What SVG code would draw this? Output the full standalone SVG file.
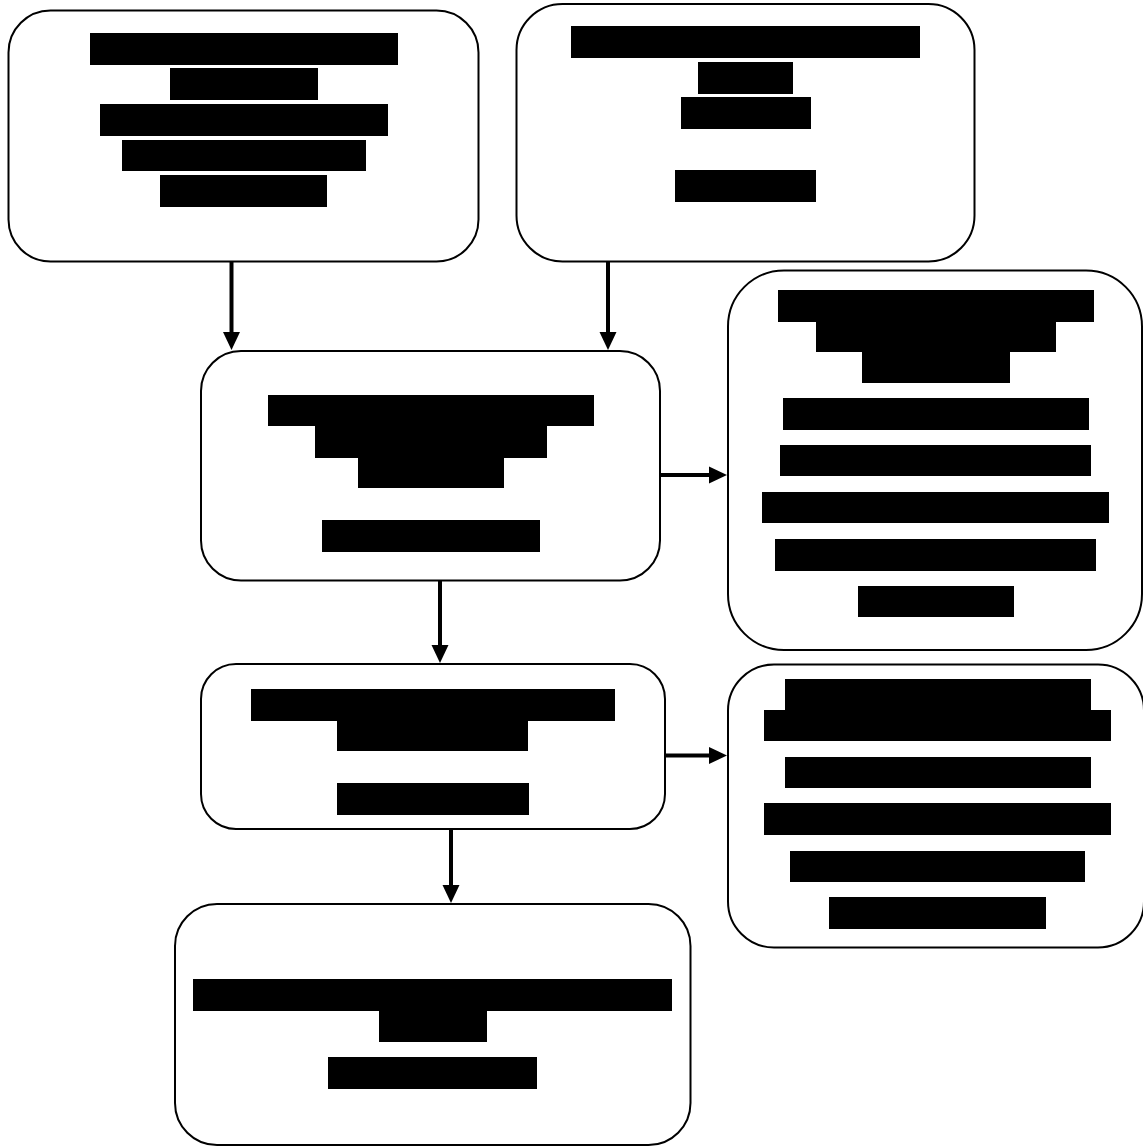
<svg xmlns="http://www.w3.org/2000/svg" width="1143" height="1147" viewBox="0 0 1143 1147">
<style>
.box{fill:#fff;stroke:#000;stroke-width:2}
.bar{fill:#000}
.conn{stroke:#000;stroke-width:4;fill:none;marker-end:url(#ah)}
</style>
<defs>
<marker id="ah" markerUnits="userSpaceOnUse" markerWidth="20" markerHeight="18" refX="8" refY="8.5" orient="auto" overflow="visible">
<path d="M0,0 L18,8.5 L0,17 Z" fill="#000"/>
</marker>
</defs>
<rect width="1143" height="1147" fill="#fff"/>
<g id="connectors">
<line class="conn" x1="231.5" y1="262" x2="231.5" y2="340"/>
<line class="conn" x1="608" y1="262" x2="608" y2="340"/>
<line class="conn" x1="440" y1="581" x2="440" y2="653"/>
<line class="conn" x1="660" y1="475" x2="717" y2="475"/>
<line class="conn" x1="665" y1="755.5" x2="717" y2="755.5"/>
<line class="conn" x1="451" y1="829" x2="451" y2="893"/>
</g>
<g id="node1">
<rect class="box" x="8.5" y="10.5" width="470" height="251" rx="42"/>
<rect class="bar" x="90" y="33" width="308" height="32"/>
<rect class="bar" x="170" y="68" width="148" height="32"/>
<rect class="bar" x="100" y="104" width="288" height="32"/>
<rect class="bar" x="122" y="140" width="244" height="31"/>
<rect class="bar" x="160" y="175" width="167" height="32"/>
</g>
<g id="node2">
<rect class="box" x="516.5" y="4" width="458" height="257.5" rx="46"/>
<rect class="bar" x="571" y="26" width="349" height="32"/>
<rect class="bar" x="698" y="62" width="95" height="32"/>
<rect class="bar" x="681" y="97" width="130" height="32"/>
<rect class="bar" x="675" y="170" width="141" height="32"/>
</g>
<g id="node3">
<rect class="box" x="201" y="351" width="459" height="229.5" rx="40"/>
<rect class="bar" x="268" y="395" width="326" height="31"/>
<rect class="bar" x="315" y="426" width="232" height="32"/>
<rect class="bar" x="358" y="457" width="146" height="31"/>
<rect class="bar" x="322" y="520" width="218" height="32"/>
</g>
<g id="node4">
<rect class="box" x="728" y="270.5" width="414" height="379.5" rx="56"/>
<rect class="bar" x="778" y="290" width="316" height="32"/>
<rect class="bar" x="816" y="321" width="240" height="31"/>
<rect class="bar" x="862" y="351" width="148" height="32"/>
<rect class="bar" x="783" y="398" width="306" height="32"/>
<rect class="bar" x="780" y="445" width="311" height="31"/>
<rect class="bar" x="762" y="492" width="347" height="31"/>
<rect class="bar" x="775" y="539" width="321" height="32"/>
<rect class="bar" x="858" y="586" width="156" height="31"/>
</g>
<g id="node5">
<rect class="box" x="201" y="664" width="464" height="165" rx="35"/>
<rect class="bar" x="251" y="689" width="364" height="32"/>
<rect class="bar" x="337" y="720" width="191" height="31"/>
<rect class="bar" x="337" y="783" width="192" height="32"/>
</g>
<g id="node6">
<rect class="box" x="728" y="664.5" width="416" height="283" rx="46"/>
<rect class="bar" x="785" y="679" width="306" height="32"/>
<rect class="bar" x="764" y="710" width="347" height="31"/>
<rect class="bar" x="785" y="757" width="306" height="31"/>
<rect class="bar" x="764" y="803" width="347" height="32"/>
<rect class="bar" x="790" y="851" width="295" height="31"/>
<rect class="bar" x="829" y="897" width="217" height="32"/>
</g>
<g id="node7">
<rect class="box" x="175" y="904" width="515.5" height="241" rx="42"/>
<rect class="bar" x="193" y="979" width="479" height="32"/>
<rect class="bar" x="379" y="1010" width="108" height="32"/>
<rect class="bar" x="328" y="1057" width="209" height="32"/>
</g>
</svg>
